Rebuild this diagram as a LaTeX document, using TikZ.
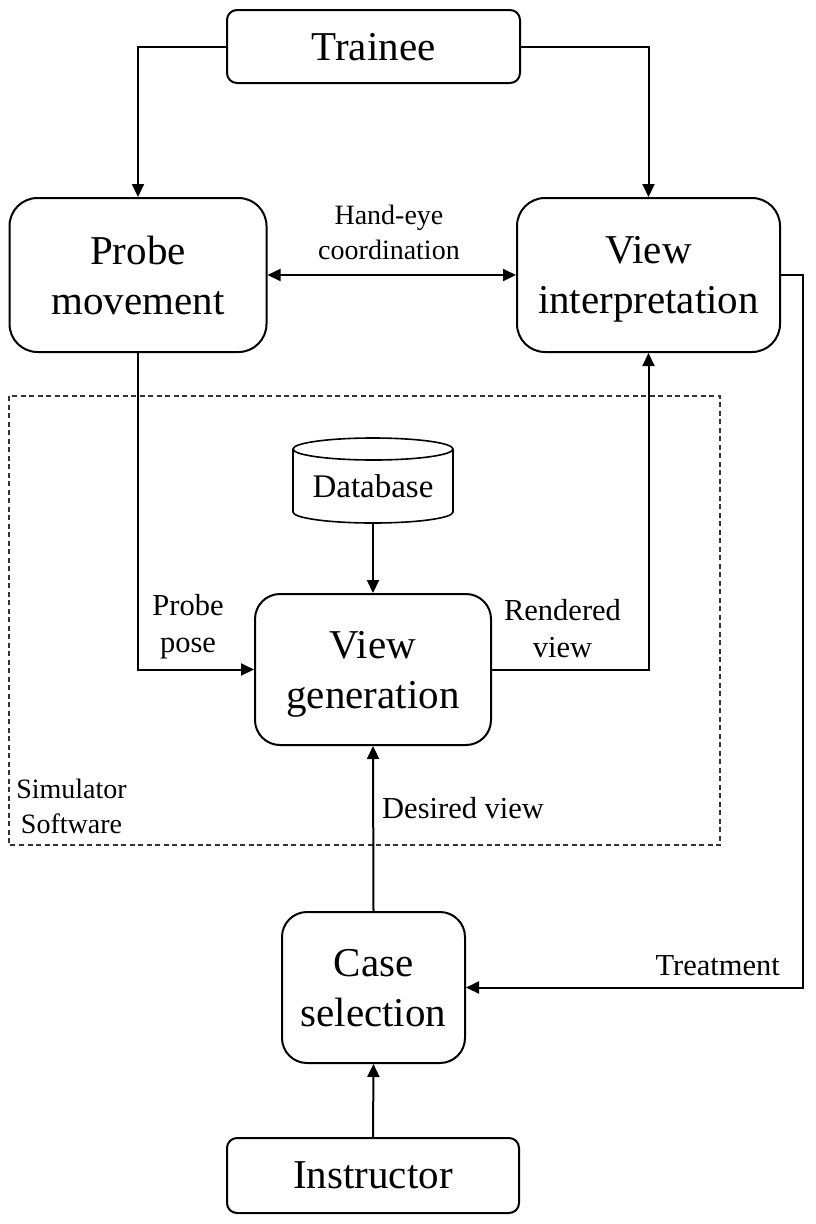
\documentclass[tikz,border=0pt]{standalone}
\usepackage{fontspec}
\setmainfont{Liberation Serif}
\usetikzlibrary{arrows.meta}
\begin{document}
\begin{tikzpicture}[x=1pt,y=-1pt,
  box/.style={draw, line width=2pt, rounded corners=#1, align=center, inner sep=0pt,
    text depth=0pt, font=\fontsize{41}{50}\selectfont},
  box/.default=25pt,
  lbl/.style={font=\fontsize{30.5}{37}\selectfont, align=center, inner sep=0pt, text depth=0pt},
  small/.style={font=\fontsize{28}{35}\selectfont, align=center, inner sep=0pt, text depth=0pt},
  arr/.style={line width=2pt, -{Triangle[length=13pt,width=12pt]}},
  darr/.style={line width=2pt, {Triangle[length=13pt,width=12pt]}-{Triangle[length=13pt,width=12pt]}},
  simbox/.style={line width=1.2pt, dash pattern=on 5pt off 3.5pt, draw=black!80}
]
\useasboundingbox (0,0) rectangle (816,1224);

% simulator region
\draw[simbox] (9,396) rectangle (720,845);
\node[small] (sim) at (71.5,806) {Simulator\\Software};

% main boxes
\node[box=10pt, minimum width=293pt, minimum height=73pt] (trainee) at (373.5,46.5) {Trainee};
\node[box=28pt, minimum width=257pt, minimum height=154pt] (probe) at (138,275) {Probe\\movement};
\node[box=28pt, minimum width=263pt, minimum height=154pt] (interp) at (648.5,275) {View\\interpretation};
\node[box, minimum width=236pt, minimum height=151pt] (gen) at (373,669.5) {View\\generation};
\node[box, minimum width=183pt, minimum height=151pt] (case) at (373.5,987.5) {Case\\selection};
\node[box=10pt, minimum width=292pt, minimum height=75pt] (instr) at (373,1175.5) {Instructor};

% database cylinder
\node[inner sep=0pt, text depth=0pt, font=\fontsize{33}{40}\selectfont] (db) at (373,486) {Database};
\draw[line width=1.6pt] (373,449) ellipse[x radius=80pt, y radius=11pt];
\draw[line width=1.6pt] (293,449) -- (293,512) arc[start angle=180, end angle=360, x radius=80pt, y radius=11pt] -- (453,449);
\coordinate (dbbot) at (373,523);

% connectors
\draw[arr] (trainee.west) -| (probe.north);
\draw[arr] (trainee.east) -| (interp.north);
\draw[darr] (probe.east) -- (interp.west);
\draw[arr] (probe.south) |- (gen.west);
\draw[arr] (gen.east) -| (interp.south);
\draw[arr] (dbbot) -- (gen.north);
\draw[arr] (case.north) -- (gen.south);
\coordinate (tr) at (803,275);
\draw[arr] (interp.east) -- (tr) |- (case.east);
\draw[arr] (instr.north) -- (case.south);

% labels
\node[small] (hand) at (389,232) {Hand-eye\\coordination};
\node[lbl] (ppose) at (188,623) {Probe\\pose};
\node[lbl] (rview) at (562.5,628) {Rendered\\view};
\node[lbl, anchor=base west] (dview) at (382,818) {Desired view};
\node[lbl, anchor=base east] (treat) at (780,975) {Treatment};
\end{tikzpicture}
\end{document}
